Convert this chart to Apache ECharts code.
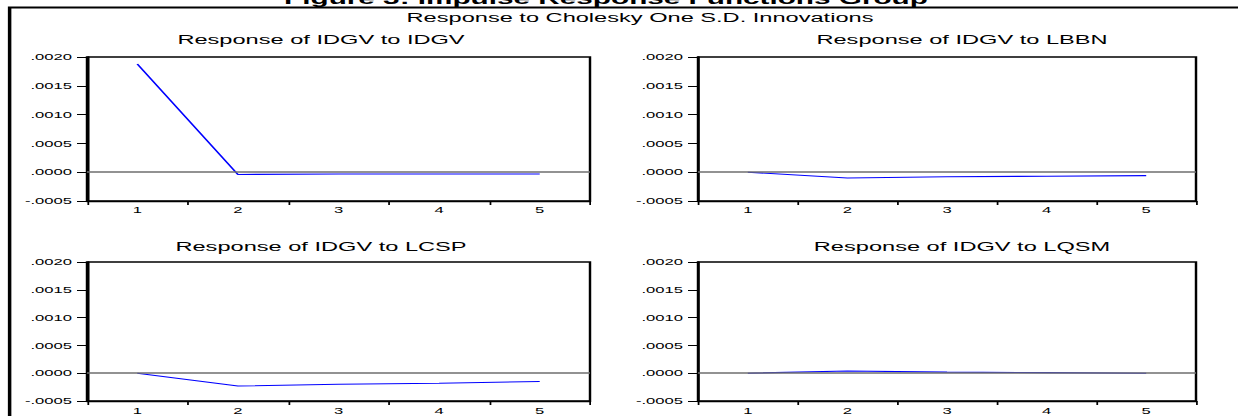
<!DOCTYPE html>
<html>
<head>
<meta charset="utf-8">
<script src="https://cdn.jsdelivr.net/npm/echarts@6/dist/echarts.min.js"></script>
<style>
  html, body { margin: 0; padding: 0; background: #fff; overflow: hidden; }
  /* the original graph is stretched sideways, so draw narrow and widen it */
  #main { width: 708px; height: 416px; transform: scaleX(1.7486); transform-origin: 0 0; }
</style>
</head>
<body>
<div id="main"></div>
<script>
const periods = ['1', '2', '3', '4', '5'];
const respIDGV = [0.00188, -0.00004, -0.00003, -0.00003, -0.00003];
const respLBBN = [0, -0.00010, -0.00008, -0.00007, -0.00006];
const respLCSP = [0, -0.00023, -0.00020, -0.00018, -0.00015];
const respLQSM = [0, 0.00004, 0.00002, 0.00001, 0];
const panelTitles = [
    'Response of IDGV to IDGV',
    'Response of IDGV to LBBN',
    'Response of IDGV to LCSP',
    'Response of IDGV to LQSM'
];
const panelData = [respIDGV, respLBBN, respLCSP, respLQSM];
const yMin = -0.0005, yMax = 0.002, yStep = 0.0005;

const k = 1238 / 708;
const sx = x => x / k;   // page pixel -> chart pixel (horizontal only)
const font = 'Liberation Sans';

// plot boxes in page pixels
const boxes = [
    {l: 87, r: 590, t: 57, h: 144},
    {l: 698, r: 1196, t: 57, h: 144},
    {l: 87, r: 590, t: 262, h: 141},
    {l: 698, r: 1196, t: 262, h: 141}
];
const subX = [321, 962, 321, 962];
const subY = [39, 39, 246, 246];

function fmt(v) {
    return v.toFixed(4).replace(/^(-?)0\./, '$1.');
}

let myChart = echarts.init(document.getElementById('main'), null, {renderer: 'svg'});

let grids = [], xAxes = [], yAxes = [], series = [], texts = [];
boxes.forEach((b, i) => {
    grids.push({
        left: sx(b.l), top: b.t, width: sx(b.r) - sx(b.l), height: b.h,
        show: true, borderColor: '#000', borderWidth: 1.4, backgroundColor: 'transparent'
    });
    xAxes.push({
        type: 'category', gridIndex: i, data: periods, boundaryGap: true,
        axisLine: {onZero: false, lineStyle: {color: '#000', width: 1.4}},
        axisTick: {show: true, length: 4, lineStyle: {color: '#000'}},
        axisLabel: {margin: i < 2 ? 4 : 5, fontSize: 9.5, fontFamily: font, color: '#000'},
        splitLine: {show: false}
    });
    yAxes.push({
        type: 'value', gridIndex: i, min: yMin, max: yMax, interval: yStep,
        axisLine: {show: true, onZero: false, lineStyle: {color: '#000', width: 1.4}},
        axisTick: {show: true, length: sx(10), lineStyle: {color: '#000'}},
        axisLabel: {margin: sx(15), fontSize: 9.5, fontFamily: font, color: '#000', formatter: fmt},
        splitLine: {show: false}
    });
    series.push({
        type: 'line', xAxisIndex: i, yAxisIndex: i, data: panelData[i],
        symbol: 'none', lineStyle: {color: '#0000ff', width: 1.1},
        markLine: {
            silent: true, symbol: ['none', 'none'], label: {show: false},
            lineStyle: {color: '#6e6e6e', width: 1.6, type: 'solid'},
            data: [{yAxis: 0}]
        }
    });
    texts.push({
        type: 'text', x: sx(subX[i]), y: subY[i],
        style: {text: panelTitles[i], fontSize: 13.5, fontFamily: font, fill: '#000',
                align: 'center', verticalAlign: 'middle'}
    });
});

myChart.setOption({
    backgroundColor: '#fff',
    animation: false,
    grid: grids,
    xAxis: xAxes,
    yAxis: yAxes,
    series: series,
    graphic: [
        {
            // heading of the page above the graph, cut by the top edge as in the original
            type: 'text', x: sx(606), y: 7,
            style: {text: 'Figure 3: Impulse Response Functions Group', fontSize: 17,
                    fontWeight: 'bold', fontFamily: font, fill: '#000',
                    align: 'center', verticalAlign: 'bottom'}
        },
        {
            type: 'rect', shape: {x: 5.5, y: 7.5, width: 760, height: 450},
            style: {fill: 'none', stroke: '#000', lineWidth: 2}
        },
        {
            type: 'text', x: sx(640), y: 17.8,
            style: {text: 'Response to Cholesky One S.D. Innovations', fontSize: 13.5,
                    fontFamily: font, fill: '#000', align: 'center', verticalAlign: 'middle'}
        }
    ].concat(texts)
});
</script>
</body>
</html>
